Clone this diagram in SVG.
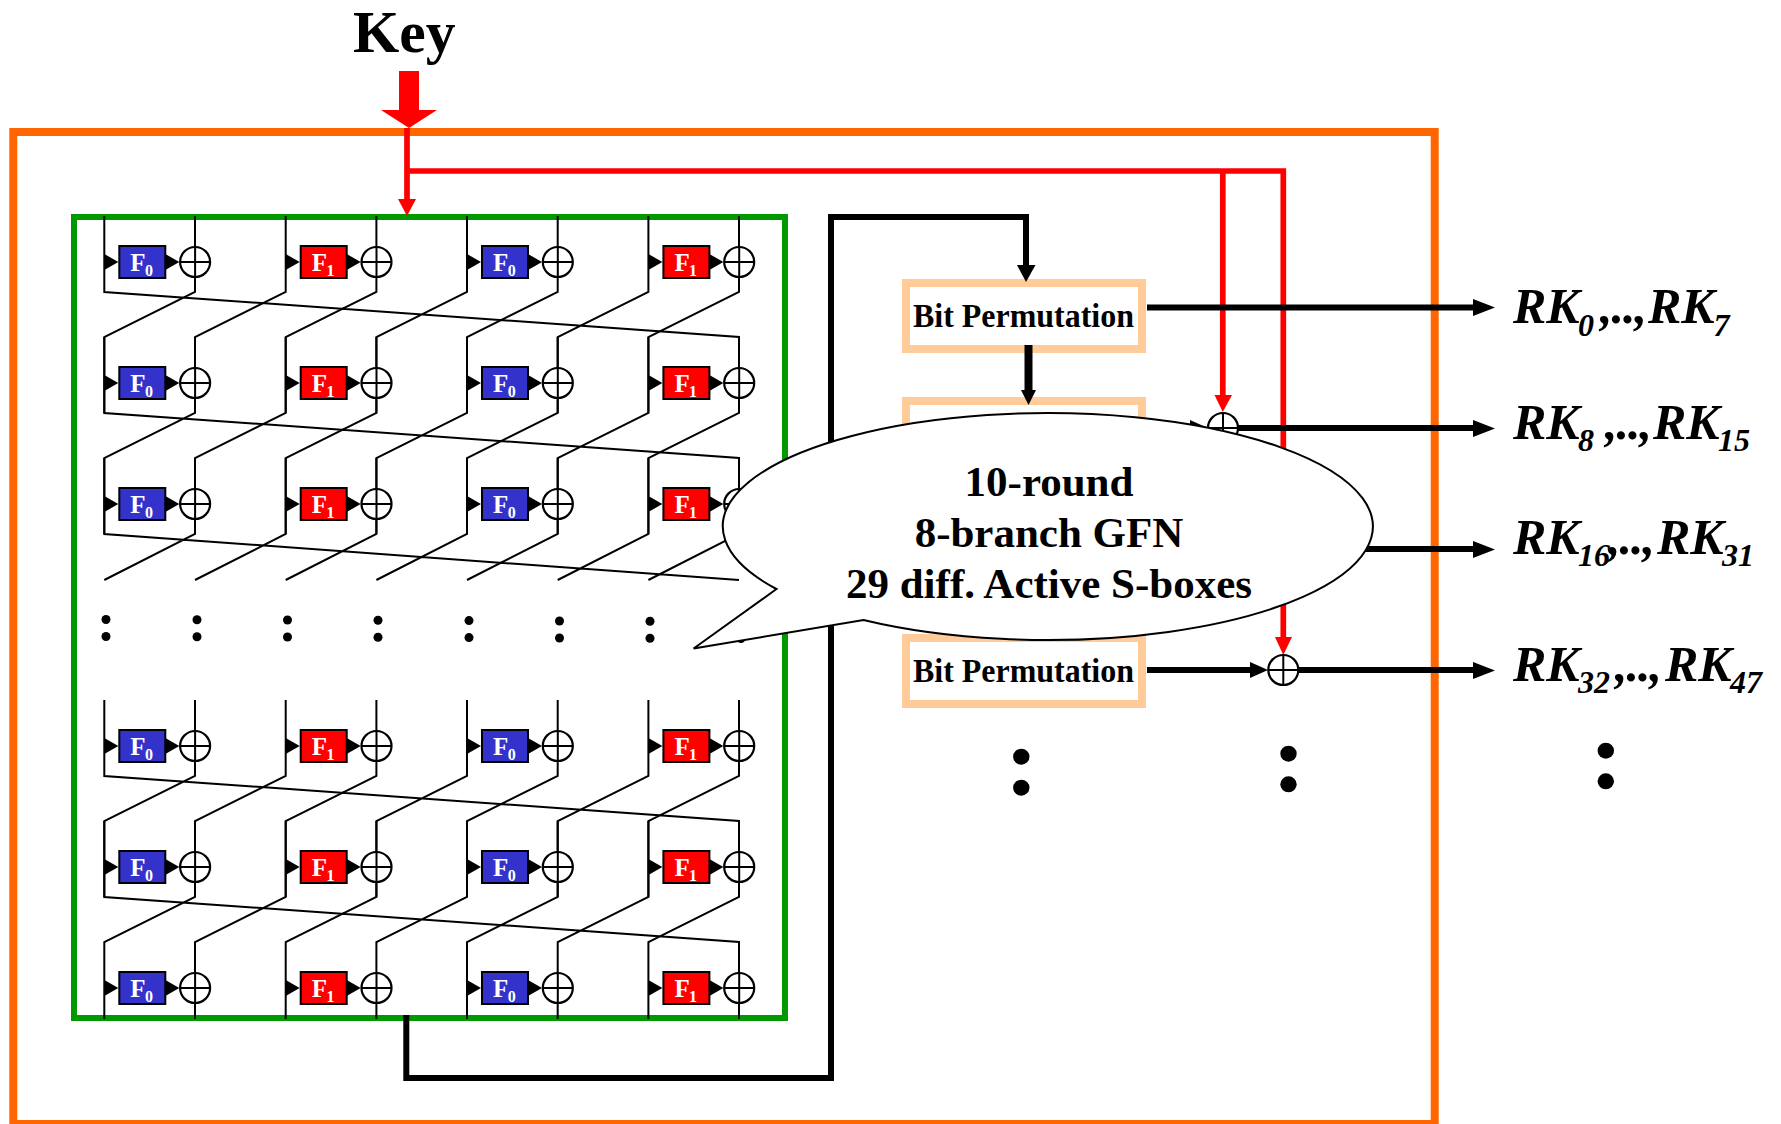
<svg xmlns="http://www.w3.org/2000/svg" width="1781" height="1124" viewBox="0 0 1781 1124">
<style>
.t{font-family:"Liberation Serif","Times New Roman",serif;font-weight:bold;fill:#000}
.rk{font-size:50px;font-style:italic}
.s{font-size:32px;font-weight:bold;font-style:italic}
.w{fill:none;stroke:#000;stroke-width:2}
.x{fill:#fff;stroke:#000;stroke-width:2.2}
.f0{fill:#3333cc;stroke:#000;stroke-width:2}
.f1{fill:#f00;stroke:#000;stroke-width:2}
.ft{font-family:"Liberation Serif",serif;font-weight:bold;font-size:25px;fill:#fff}
.fs{font-size:16px}
.red{fill:none;stroke:#f00;stroke-width:5.7}
.blk{fill:none;stroke:#000;stroke-width:6}
.bp{fill:#fff;stroke:#fc9;stroke-width:8}
</style>
<defs>
<g id="f0u"><path d="M0,-8L14,0L0,8Z" fill="#000"/><rect class="f0" x="15" y="-16" width="46" height="32"/><text class="ft" x="26" y="9">F<tspan class="fs" x="40.7" y="13.5">0</tspan></text><path d="M61,-8L75,0L61,8Z" fill="#000"/><circle class="x" cx="90.8" cy="0" r="15"/><path class="w" d="M75.8,0H105.8M90.8,-15V15"/></g>
<g id="f1u"><path d="M0,-8L14,0L0,8Z" fill="#000"/><rect class="f1" x="15" y="-16" width="46" height="32"/><text class="ft" x="26" y="9">F<tspan class="fs" x="40.7" y="13.5">1</tspan></text><path d="M61,-8L75,0L61,8Z" fill="#000"/><circle class="x" cx="90.8" cy="0" r="15"/><path class="w" d="M75.8,0H105.8M90.8,-15V15"/></g>
</defs>
<rect width="1781" height="1124" fill="#fff"/>
<rect id="outer" x="13.3" y="132" width="1421.4" height="992" fill="none" stroke="#f60" stroke-width="8"/>
<rect id="gfn" x="74" y="217" width="711" height="801" fill="none" stroke="#090" stroke-width="6"/>
<g id="bp1"><rect class="bp" x="906" y="283" width="236" height="66"/><text class="t" font-size="33" x="913" y="327" textLength="221" lengthAdjust="spacingAndGlyphs">Bit Permutation</text></g>
<g id="bp2"><rect class="bp" x="906" y="401" width="236" height="66"/></g>
<g id="bp4"><rect class="bp" x="906" y="638" width="236" height="66"/><text class="t" font-size="33" x="913" y="682" textLength="221" lengthAdjust="spacingAndGlyphs">Bit Permutation</text></g>
<g id="connectors">
<path class="w" d="M104.3,216V292L739,337V413M195,216V292L104.3,337V413M285.7,216V292L195,337V413M376.4,216V292L285.7,337V413M467,216V292L376.4,337V413M557.7,216V292L467,337V413M648.4,216V292L557.7,337V413M739,216V292L648.4,337V413"/>
<path class="w" d="M104.3,337V413L739,458V534M195,337V413L104.3,458V534M285.7,337V413L195,458V534M376.4,337V413L285.7,458V534M467,337V413L376.4,458V534M557.7,337V413L467,458V534M648.4,337V413L557.7,458V534M739,337V413L648.4,458V534"/>
<path class="w" d="M104.3,458V534L739,580M195,458V534L104.3,580M285.7,458V534L195,580M376.4,458V534L285.7,580M467,458V534L376.4,580M557.7,458V534L467,580M648.4,458V534L557.7,580M739,458V534L648.4,580"/>
<path class="w" d="M104.3,700V776L739,821V897M195,700V776L104.3,821V897M285.7,700V776L195,821V897M376.4,700V776L285.7,821V897M467,700V776L376.4,821V897M557.7,700V776L467,821V897M648.4,700V776L557.7,821V897M739,700V776L648.4,821V897"/>
<path class="w" d="M104.3,821V897L739,942V1019M195,821V897L104.3,942V1019M285.7,821V897L195,942V1019M376.4,821V897L285.7,942V1019M467,821V897L376.4,942V1019M557.7,821V897L467,942V1019M648.4,821V897L557.7,942V1019M739,821V897L648.4,942V1019"/>
<path class="blk" d="M406.3,1015V1078H831V217H1026V266" stroke-linejoin="miter"/>
<path d="M1017,265H1035.5L1026,282Z" fill="#000"/>
<path d="M1028.5,345V392" fill="none" stroke="#000" stroke-width="8"/>
<path d="M1021,390H1036L1028.5,405Z" fill="#000"/>
<path class="red" d="M407,128V200M407,171H1283.3V638M1222.8,171V396"/>
<path d="M398,199H416L407,216Z" fill="#f00"/>
<path d="M1214.5,395H1232L1222.8,412Z" fill="#f00"/>
<path d="M1275,637H1292L1283.3,655Z" fill="#f00"/>
<path d="M399,71H419V110H437L409,128L381,110H399Z" fill="#f00"/>
<path class="blk" d="M1147,307.5H1478M1147,428H1195M1238,428H1478M1300,549H1478M1147,670H1252M1298,670H1478"/>
<path d="M1473,299L1495,307.5L1473,316ZM1473,420L1495,428.5L1473,437ZM1473,541L1495,549.5L1473,558ZM1473,662L1495,670.5L1473,679ZM1250,662L1268,670L1250,678ZM1190,420L1208,428L1190,436Z" fill="#000"/>
<circle class="x" cx="1223" cy="428" r="15"/><path class="w" d="M1208,428H1238M1223,413V443"/>
<circle class="x" cx="1283.3" cy="670" r="15"/><path class="w" d="M1268,670H1298M1283.3,655V685"/>
</g>
<g id="grid">
<use href="#f0u" x="104.3" y="262"/><use href="#f1u" x="285.7" y="262"/><use href="#f0u" x="467" y="262"/><use href="#f1u" x="648.4" y="262"/>
<use href="#f0u" x="104.3" y="383"/><use href="#f1u" x="285.7" y="383"/><use href="#f0u" x="467" y="383"/><use href="#f1u" x="648.4" y="383"/>
<use href="#f0u" x="104.3" y="504"/><use href="#f1u" x="285.7" y="504"/><use href="#f0u" x="467" y="504"/><use href="#f1u" x="648.4" y="504"/>
<use href="#f0u" x="104.3" y="746"/><use href="#f1u" x="285.7" y="746"/><use href="#f0u" x="467" y="746"/><use href="#f1u" x="648.4" y="746"/>
<use href="#f0u" x="104.3" y="867"/><use href="#f1u" x="285.7" y="867"/><use href="#f0u" x="467" y="867"/><use href="#f1u" x="648.4" y="867"/>
<use href="#f0u" x="104.3" y="988"/><use href="#f1u" x="285.7" y="988"/><use href="#f0u" x="467" y="988"/><use href="#f1u" x="648.4" y="988"/>
</g>
<g id="dots" fill="#000">
<circle cx="106" cy="619.5" r="4.5"/><circle cx="106" cy="636.5" r="4.5"/>
<circle cx="197" cy="619.8" r="4.5"/><circle cx="197" cy="636.8" r="4.5"/>
<circle cx="287.5" cy="620" r="4.5"/><circle cx="287.5" cy="637" r="4.5"/>
<circle cx="378" cy="620.3" r="4.5"/><circle cx="378" cy="637.3" r="4.5"/>
<circle cx="469" cy="620.6" r="4.5"/><circle cx="469" cy="637.6" r="4.5"/>
<circle cx="559.5" cy="621" r="4.5"/><circle cx="559.5" cy="638" r="4.5"/>
<circle cx="650" cy="621.2" r="4.5"/><circle cx="650" cy="638.2" r="4.5"/>
<circle cx="741" cy="621.5" r="4.5"/><circle cx="741" cy="638.5" r="4.5"/>
<ellipse cx="1021.3" cy="756.7" rx="8.2" ry="8"/><ellipse cx="1021.3" cy="787.7" rx="8.2" ry="8"/>
<ellipse cx="1288.5" cy="753.7" rx="8.2" ry="8"/><ellipse cx="1288.5" cy="784.3" rx="8.2" ry="8"/>
<ellipse cx="1605.8" cy="750.7" rx="8.2" ry="8"/><ellipse cx="1605.8" cy="781.3" rx="8.2" ry="8"/>
</g>
<text id="key" class="t" font-size="59.5" x="353" y="52">Key</text>
<g id="rk0" class="t rk"><text x="1513" y="323">RK<tspan class="s" x="1578" y="336">0</tspan><tspan x="1600" y="323" letter-spacing="-1">,..,</tspan><tspan x="1648" y="323">RK</tspan><tspan class="s" x="1713.5" y="336">7</tspan></text></g>
<g id="rk8" class="t rk"><text x="1513" y="438.5">RK<tspan class="s" x="1578" y="451">8</tspan><tspan x="1605" y="438.5" letter-spacing="-1">,..,</tspan><tspan x="1653" y="438.5">RK</tspan><tspan class="s" x="1718" y="451">15</tspan></text></g>
<g id="rk16" class="t rk"><text x="1513" y="554">RK<tspan class="s" x="1578" y="566">16</tspan><tspan x="1608" y="554" letter-spacing="-1">,..,</tspan><tspan x="1657" y="554">RK</tspan><tspan class="s" x="1722" y="566">31</tspan></text></g>
<g id="rk32" class="t rk"><text x="1513" y="681">RK<tspan class="s" x="1578" y="693">32</tspan><tspan x="1615" y="681" letter-spacing="-1">,..,</tspan><tspan x="1665" y="681">RK</tspan><tspan class="s" x="1730" y="693">47</tspan></text></g>
<g id="callout">
<path d="M776.5,589L693.6,648.5L863.5,620A325,113.5 0 1 0 776.5,589Z" fill="#fff" stroke="#000" stroke-width="2"/>
<text class="t" font-size="43" text-anchor="middle" x="1049" y="496">10-round</text>
<text class="t" font-size="43" text-anchor="middle" x="1049" y="547">8-branch GFN</text>
<text class="t" font-size="43" text-anchor="middle" x="1049" y="598">29 diff. Active S-boxes</text>
</g>
</svg>
